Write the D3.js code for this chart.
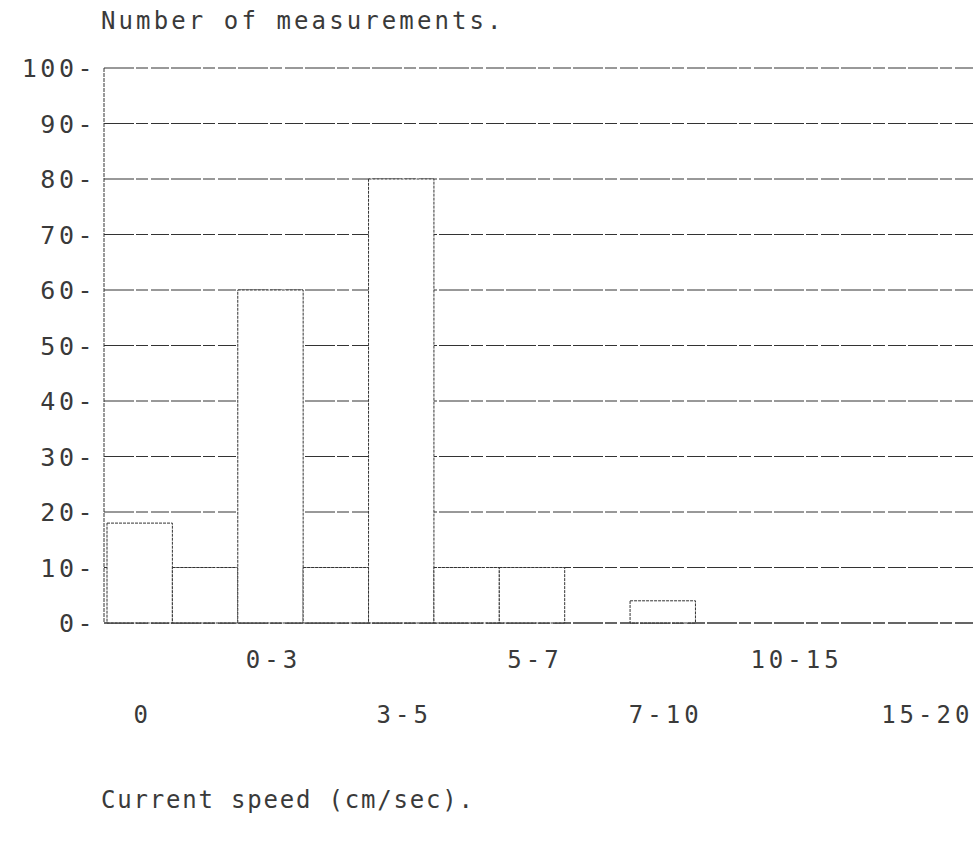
<!DOCTYPE html>
<html>
<head>
<meta charset="utf-8">
<script src="https://cdn.jsdelivr.net/npm/d3@7"></script>
<style>
  html, body { margin: 0; padding: 0; background: #fff; }
  svg { display: block; }
  text { font-family: "DejaVu Sans Mono", "Liberation Mono", monospace; fill: #3a3a3a; }
</style>
</head>
<body>
<svg id="chart" width="975" height="845"></svg>
<script>
// speed bins, only every other bin carries a label
const binLabels = ['0', '', '0-3', '', '3-5', '', '5-7', '', '7-10', '', '10-15', '', '15-20'];
const counts = [18, 10, 60, 10, 80, 10, 10, 0, 4, 0, 0, 0, 0];
const yTicks = [0, 10, 20, 30, 40, 50, 60, 70, 80, 90, 100];

const svg = d3.select('#chart');

let x = d3.scaleBand()
	.domain(d3.range(binLabels.length))
	.range([107, 957]);

let y = d3.scaleLinear()
	.domain([0, 100])
	.range([623, 68]);

// horizontal grid, runs off the right edge
svg.append('g')
	.selectAll('line')
	.data(yTicks)
	.enter()
	.append('line')
	.attr('x1', x.range()[0] - 3)
	.attr('x2', 975)
	.attr('y1', d => y(d))
	.attr('y2', d => y(d))
	.attr('stroke', '#333')
	.attr('stroke-width', 1)
	.attr('stroke-dasharray', '30 2 12 3 18 2');

// bars, white filled so they hide the grid
svg.append('g')
	.selectAll('rect')
	.data(counts)
	.enter()
	.append('rect')
	.attr('x', (d, i) => x(i))
	.attr('y', d => y(d))
	.attr('width', x.bandwidth())
	.attr('height', d => y(0) - y(d))
	.attr('fill', '#fff')
	.attr('stroke', '#333')
	.attr('stroke-width', 1)
	.attr('stroke-dasharray', '3 1');

// baseline again on top
svg.append('line')
	.attr('x1', x.range()[0] - 3)
	.attr('x2', 975)
	.attr('y1', y(0))
	.attr('y2', y(0))
	.attr('stroke', '#333')
	.attr('stroke-dasharray', '30 2 12 3 18 2');

// y axis line
svg.append('line')
	.attr('x1', x.range()[0] - 3)
	.attr('x2', x.range()[0] - 3)
	.attr('y1', y(100))
	.attr('y2', y(0))
	.attr('stroke', '#333')
	.attr('stroke-dasharray', '4 1');

// y tick labels with the plotter dash
svg.append('g')
	.selectAll('text')
	.data(yTicks)
	.enter()
	.append('text')
	.attr('x', 96)
	.attr('y', d => y(d) + 9)
	.attr('text-anchor', 'end')
	.style('font-size', '25px')
	.style('letter-spacing', '3.5px')
	.text(d => d + '-');

// x labels, staggered over two rows
let labelled = binLabels
	.map((d, i) => ({label: d, i: i}))
	.filter(d => d.label !== '');

svg.append('g')
	.selectAll('text')
	.data(labelled)
	.enter()
	.append('text')
	.attr('x', d => x(d.i) + x.bandwidth() / 2 + 3)
	.attr('y', (d, k) => k % 2 === 1 ? 668 : 723)
	.attr('text-anchor', 'middle')
	.style('font-size', '24px')
	.style('letter-spacing', '4px')
	.text(d => d.label);

// titles
svg.append('text')
	.attr('x', 101)
	.attr('y', 29)
	.style('font-size', '24px')
	.style('letter-spacing', '3.1px')
	.text('Number of measurements.');

svg.append('text')
	.attr('x', 101)
	.attr('y', 808)
	.style('font-size', '24px')
	.style('letter-spacing', '1.8px')
	.text('Current speed (cm/sec).');
</script>
</body>
</html>
